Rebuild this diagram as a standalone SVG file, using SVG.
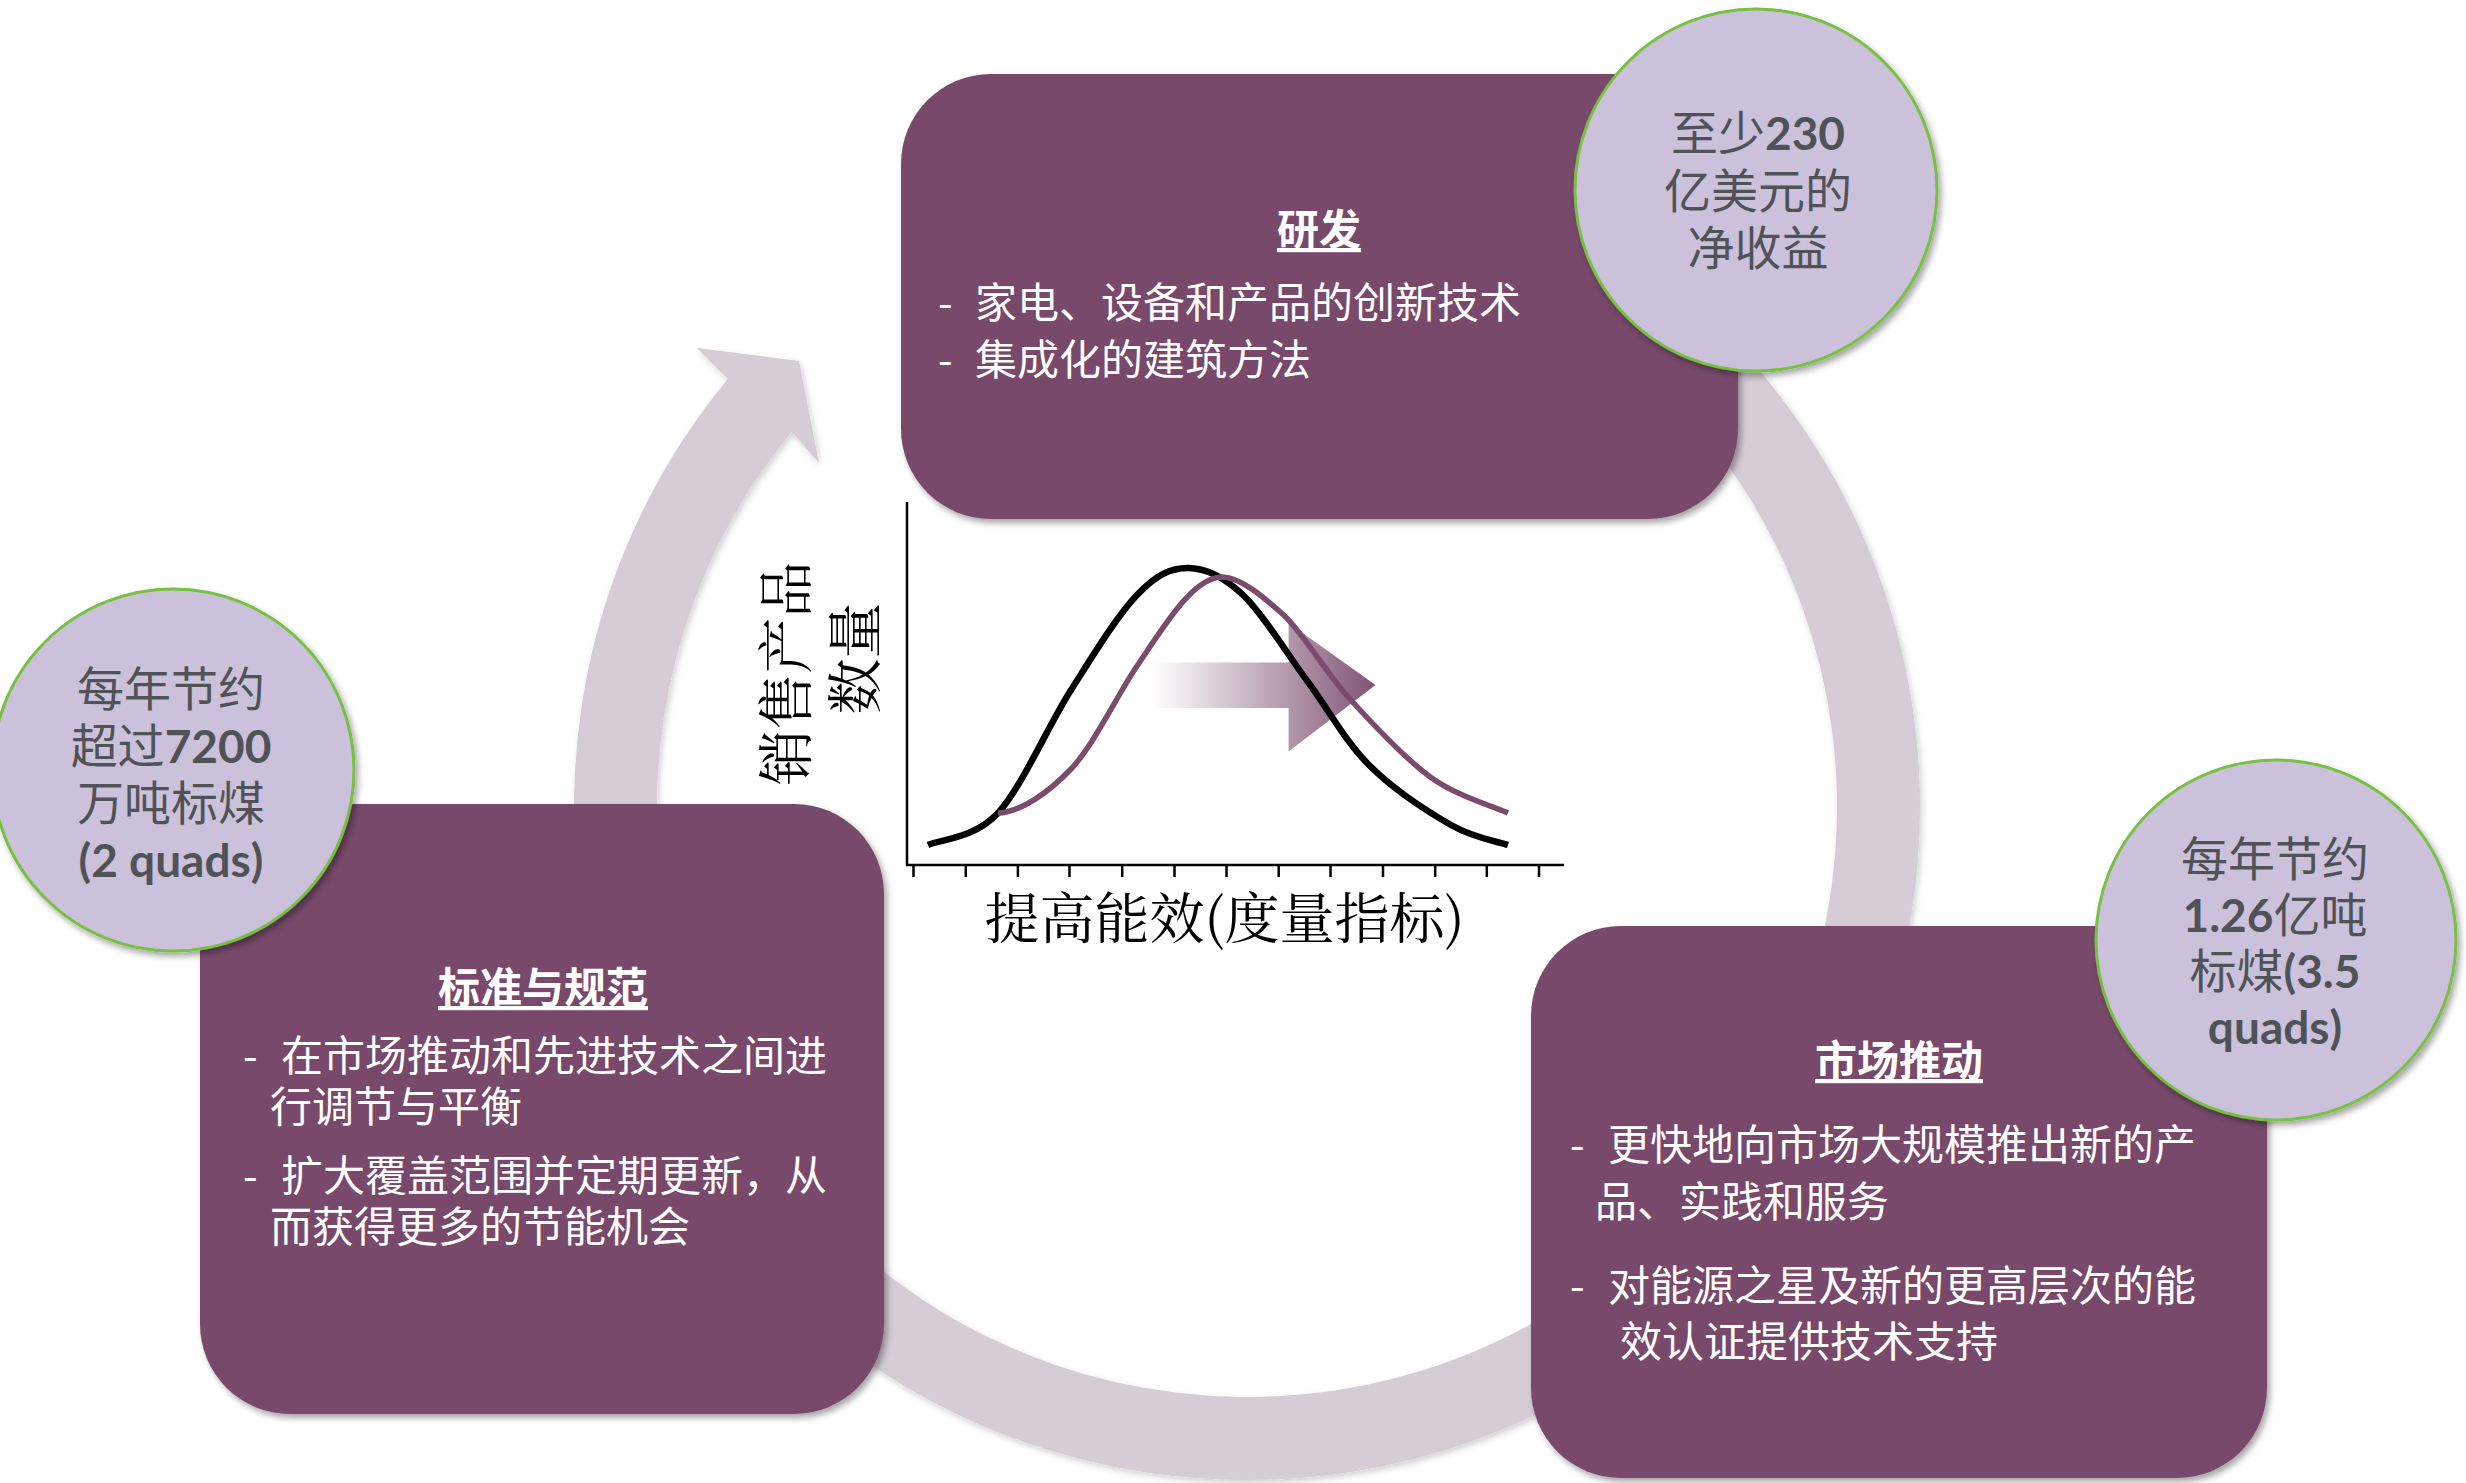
<svg xmlns="http://www.w3.org/2000/svg" width="2466" height="1483" viewBox="0 0 2466 1483">
<defs>
  <filter id="sh" x="-10%" y="-10%" width="125%" height="125%">
    <feDropShadow dx="3" dy="4" stdDeviation="3" flood-color="#000" flood-opacity="0.35"/>
  </filter>
  <filter id="shr" x="-10%" y="-10%" width="125%" height="125%">
    <feDropShadow dx="2" dy="3" stdDeviation="3" flood-color="#000" flood-opacity="0.18"/>
  </filter>
  <linearGradient id="ag" gradientUnits="userSpaceOnUse" x1="1153" y1="0" x2="1376" y2="0">
    <stop offset="0" stop-color="#7A4B6D" stop-opacity="0"/>
    <stop offset="1" stop-color="#7A4B6D" stop-opacity="0.95"/>
  </linearGradient>
  <style>
    .box { fill: #784A6B; filter: url(#sh); }
    .circ { fill: #CBC1DB; stroke: #77C043; stroke-width: 3; filter: url(#sh); }
    .ct { font-family: Lato, "Noto Sans CJK SC", sans-serif; font-size: 47px; fill: #4F5358; text-anchor: middle; }
    .b { font-weight: bold; font-size: 46px; }
    .title { font-family: "Noto Sans CJK SC", sans-serif; font-size: 42px; font-weight: bold; fill: #fff; text-anchor: middle; text-decoration: underline; }
    .bt { font-family: "Noto Sans CJK SC", sans-serif; font-size: 42px; fill: #fff; }
    .ax { font-family: "Noto Serif CJK SC", "Noto Sans CJK SC", serif; fill: #000; }
    .axis { stroke: #000; stroke-width: 2.5; fill: none; }
  </style>
</defs>
<rect width="2466" height="1483" fill="#fff"/>

<g id="connectors">
  <path id="cycle-arrow" filter="url(#shr)" fill="#D5CCD6" d="M1421.2,156.9 A673,673 0 1,1 727.7,378.9 L697,348 L799,361 L819,463 L791.8,431.7 A590,590 0 1,0 1399.7,237.1 Z"/>
</g>

<g id="chart">
  <polygon fill="url(#ag)" points="1153,662.5 1288.6,662.5 1288.6,623 1375.5,685 1288.6,751.5 1288.6,708 1153,708"/>
  <path class="axis" d="M907,502 V865 H1564"/>
  <path class="axis" d="M913.5,865v12 M965.8,865v12 M1017.9,865v12 M1069.5,865v12 M1122.2,865v12 M1174.5,865v12 M1226.5,865v12 M1278.7,865v12 M1330.5,865v12 M1383,865v12 M1435.2,865v12 M1486.8,865v12 M1539,865v12"/>
  <path fill="none" stroke="#000" stroke-width="6.5" d="M928,845 C939.7,839.7 974.2,838.8 998,813 C1021.8,787.2 1047.8,726.3 1071,690 C1094.2,653.7 1117.5,615.3 1137,595 C1156.5,574.7 1170.3,568 1188,568 C1205.7,568 1223,576 1243,595 C1263,614 1287,653.7 1308,682 C1329,710.3 1345.2,741.2 1369,765 C1392.8,788.8 1427.8,811.7 1451,825 C1474.2,838.3 1498.5,841.7 1508,845"/>
  <path fill="none" stroke="#7A4B6D" stroke-width="5.5" d="M998,813 C1020,812 1047.8,793.5 1071,769 C1094.2,744.5 1116.5,696.3 1137,666 C1165.7,623.6 1193.7,577 1222,577 C1242,577 1268,601.3 1283.7,615 C1304.9,635.2 1324.5,671 1349,698 C1373.5,725 1404.1,758 1430.6,777.2 C1457.1,796.4 1495.1,807 1508,813"/>
  <text class="ax" font-size="56" text-anchor="middle" transform="translate(806,673.5) rotate(-90)"><tspan x="0" y="0">销售产品</tspan><tspan x="15" y="69">数量</tspan></text>
  <text class="ax" font-size="55" text-anchor="middle" x="1224.5" y="938">提高能效(度量指标)</text>
</g>

<g id="node-rd">
  <rect class="box" x="901" y="74" width="837" height="445" rx="90" ry="90"/>
  <text class="title" x="1319" y="245">研发</text>
  <text class="bt"><tspan x="938" y="318">-</tspan><tspan x="938" y="375">-</tspan></text>
  <text class="bt"><tspan x="975" y="318">家电、设备和产品的创新技术</tspan><tspan x="975" y="375">集成化的建筑方法</tspan></text>
</g>

<g id="node-standards">
  <rect class="box" x="200" y="804" width="684" height="610" rx="90" ry="90"/>
  <text class="title" x="543" y="1003">标准与规范</text>
  <text class="bt"><tspan x="243" y="1071">-</tspan><tspan x="243" y="1191">-</tspan></text>
  <text class="bt"><tspan x="281" y="1071">在市场推动和先进技术之间进</tspan><tspan x="270" y="1122">行调节与平衡</tspan><tspan x="281" y="1191">扩大覆盖范围并定期更新，从</tspan><tspan x="270" y="1242">而获得更多的节能机会</tspan></text>
</g>

<g id="node-market">
  <rect class="box" x="1531" y="926" width="736" height="552" rx="90" ry="90"/>
  <text class="title" x="1899" y="1076">市场推动</text>
  <text class="bt"><tspan x="1570" y="1160">-</tspan><tspan x="1570" y="1301">-</tspan></text>
  <text class="bt"><tspan x="1608" y="1160">更快地向市场大规模推出新的产</tspan><tspan x="1595" y="1217">品、实践和服务</tspan><tspan x="1608" y="1301">对能源之星及新的更高层次的能</tspan><tspan x="1620" y="1357">效认证提供技术支持</tspan></text>
</g>

<g id="circle-benefit">
  <circle class="circ" cx="1756" cy="190" r="181"/>
  <text class="ct"><tspan x="1758" y="150">至少<tspan class="b">230</tspan></tspan><tspan x="1758" y="208">亿美元的</tspan><tspan x="1758" y="265">净收益</tspan></text>
</g>

<g id="circle-standards">
  <circle class="circ" cx="173" cy="770" r="181"/>
  <text class="ct"><tspan x="171" y="706">每年节约</tspan><tspan x="171" y="763">超过<tspan class="b">7200</tspan></tspan><tspan x="171" y="820">万吨标煤</tspan><tspan x="171" y="877" class="b">(2 quads)</tspan></text>
</g>

<g id="circle-market">
  <circle class="circ" cx="2276" cy="940" r="180"/>
  <text class="ct"><tspan x="2275" y="876">每年节约</tspan><tspan x="2275" y="932"><tspan class="b">1.26</tspan>亿吨</tspan><tspan x="2275" y="988">标煤<tspan class="b">(3.5</tspan></tspan><tspan x="2275" y="1044" class="b">quads)</tspan></text>
</g>
</svg>
